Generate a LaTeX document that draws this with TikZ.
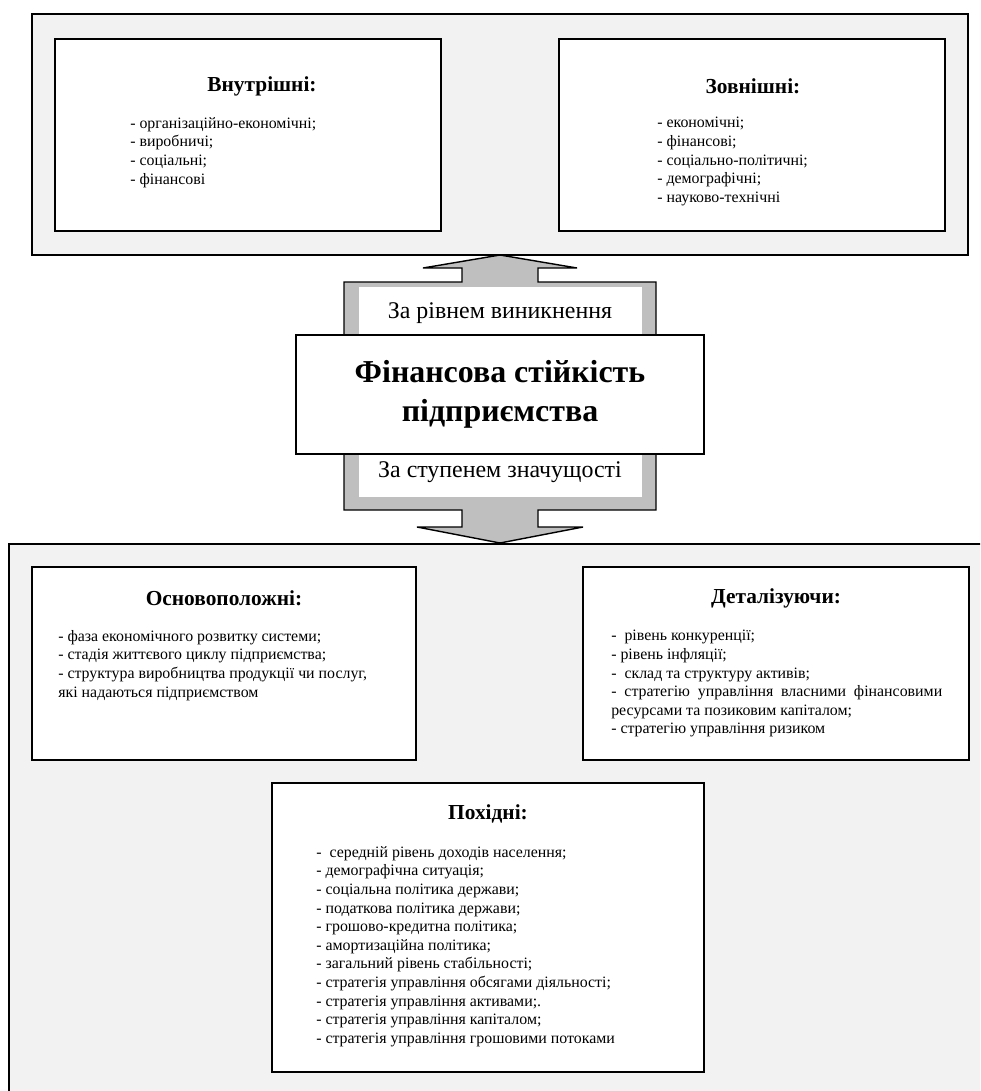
\documentclass[tikz,border=0pt]{standalone}
\usepackage{fontspec}
\setmainfont{Liberation Serif}
\usepackage{tikz}
\usetikzlibrary{positioning, calc}
\tikzstyle{panel}   = [rectangle, draw=black, fill=gray!10, line width=1.2pt]
\tikzstyle{group}   = [rectangle, draw=black, fill=white, line width=1.4pt]
\tikzstyle{heading} = [inner sep=0pt, font=\fontsize{15.2}{17}\selectfont\bfseries]
\tikzstyle{items}   = [inner sep=0pt, anchor=north west, align=left,
                       font=\fontsize{11.3}{13.25}\selectfont]
\tikzstyle{crit}    = [rectangle, fill=white, minimum width=7.075cm,
                       font=\fontsize{17}{20}\selectfont]
\tikzstyle{core}    = [rectangle, draw=black, fill=white, line width=1.4pt,
                       minimum width=10.2cm, minimum height=2.975cm, align=center,
                       font=\fontsize{22.7}{27.8}\selectfont\bfseries]

\begin{document}
\begin{tikzpicture}

  \useasboundingbox (0,0) rectangle (24.5,-27.275);
  \clip (0,0) rectangle (24.5,-27.275);

  % Panels
  \node (lower) [panel, anchor=north west, minimum width=25cm, minimum height=14.5cm] at (0.2,-13.575) {};
  \node (upper) [panel, minimum width=23.4cm, minimum height=6.025cm] at (12.5,-3.3625) {};

  % By origin
  \node (inner) [group, minimum width=9.65cm, minimum height=4.8cm] at (6.2,-3.375) {};
  \node (outer) [group, minimum width=9.65cm, minimum height=4.8cm] at (18.8,-3.375) {};
  \node (innerhead) [heading] at (6.55,-2.15) {Внутрішні:};
  \node (outerhead) [heading] at (18.825,-2.15) {Зовнішні:};
  \node (innerlist) [items] at (3.25,-2.925)
    {- організаційно-економічні;\\ - виробничі;\\ - соціальні;\\ - фінансові};
  \node (outerlist) [items] at (16.425,-2.925)
    {- економічні;\\ - фінансові;\\ - соціально-політичні;\\ - демографічні;\\ - науково-технічні};

  % Up and down arrow
  \draw[line width=1pt, fill=gray!50]
    (12.5,-6.375) -- (14.425,-6.7) -- (13.45,-6.7) -- (13.45,-7.05) -- (16.4,-7.05)
    -- (16.4,-12.75) -- (13.45,-12.75) -- (13.45,-13.175) -- (14.575,-13.175)
    -- (12.5,-13.575) -- (10.425,-13.175) -- (11.55,-13.175) -- (11.55,-12.75)
    -- (8.6,-12.75) -- (8.6,-7.05) -- (11.55,-7.05) -- (11.55,-6.7) -- (10.575,-6.7) -- cycle;
  \node (origin) [crit, minimum height=1.325cm] at (12.5,-7.8375) {За рівнем виникнення};
  \node (weight) [crit, minimum height=1.225cm] at (12.5,-11.8125) {За ступенем значущості};
  \node (stab) [core] at (12.5,-9.8625) {Фінансова стійкість\\ підприємства};

  % By significance
  \node (basic)  [group, minimum width=9.6cm, minimum height=4.825cm] at (5.6,-16.5875) {};
  \node (detail) [group, minimum width=9.65cm, minimum height=4.825cm] at (19.4,-16.5875) {};
  \node (derived)[group, minimum width=10.8cm, minimum height=7.225cm] at (12.2,-23.1875) {};
  \node (basichead)   [heading] at (5.6,-14.95) {Основоположні:};
  \node (detailhead)  [heading] at (19.4,-14.95) {Деталізуючи:};
  \node (derivedhead) [heading] at (12.2,-20.35) {Похідні:};
  \node (basiclist) [items] at (1.45,-15.75)
    {- фаза економічного розвитку системи;\\
     - стадія життєвого циклу підприємства;\\
     - структура виробництва продукції чи послуг,\\
     які надаються підприємством};
  \node (detaillist) [items] at (15.275,-15.75)
    {-~~рівень конкуренції;\\
     - рівень інфляції;\\
     -~~склад та структуру активів;\\
     \makebox[8.275cm][s]{- стратегію управління власними фінансовими}\\
     ресурсами та позиковим капіталом;\\
     - стратегію управління ризиком};
  \node (derivedlist) [items] at (7.9,-21.15)
    {-~~середній рівень доходів населення;\\
     - демографічна ситуація;\\
     - соціальна політика держави;\\
     - податкова політика держави;\\
     - грошово-кредитна політика;\\
     - амортизаційна політика;\\
     - загальний рівень стабільності;\\
     - стратегія управління обсягами діяльності;\\
     - стратегія управління активами;.\\
     - стратегія управління капіталом;\\
     - стратегія управління грошовими потоками};

\end{tikzpicture}
\end{document}
